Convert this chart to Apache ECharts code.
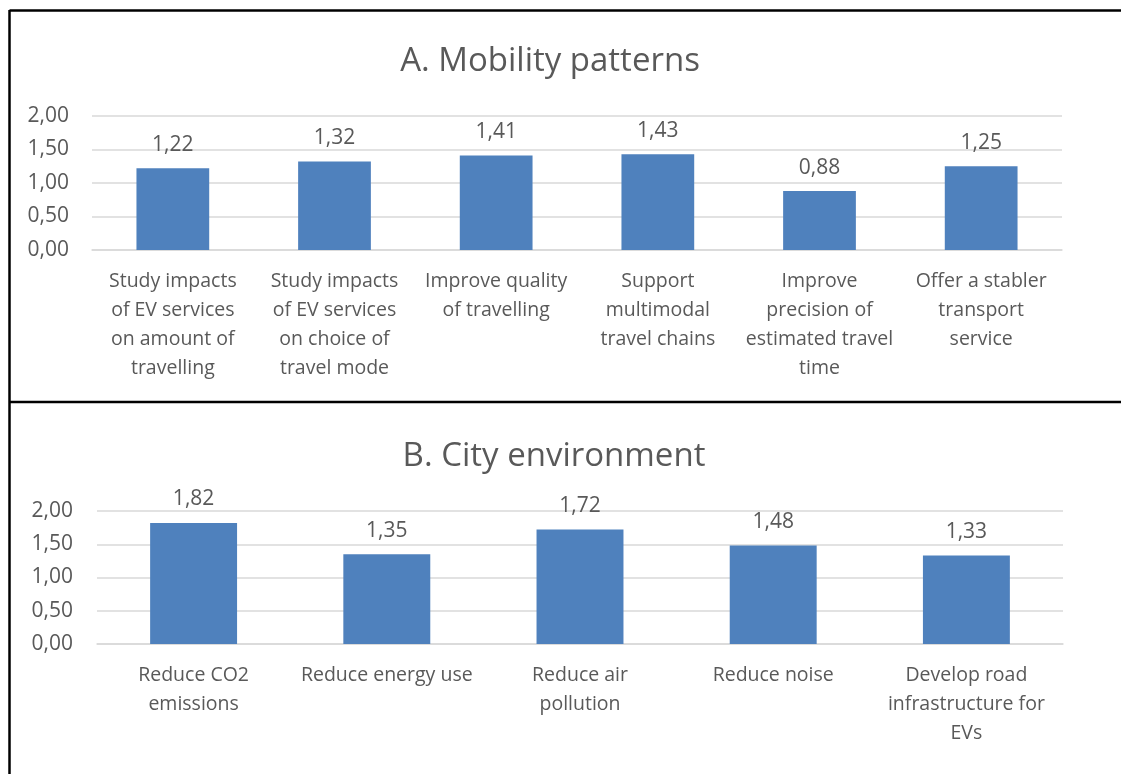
<!DOCTYPE html>
<html>
<head>
<meta charset="utf-8">
<script src="https://cdn.jsdelivr.net/npm/echarts@6/dist/echarts.min.js"></script>
<style>
  html, body { margin: 0; padding: 0; background: #fff; }
  #chart { width: 1121px; height: 774px; }
</style>
</head>
<body>
<div id="chart"></div>
<script>
// panel A
const mobilityCategories = [
  'Study impacts\nof EV services\non amount of\ntravelling',
  'Study impacts\nof EV services\non choice of\ntravel mode',
  'Improve quality\nof travelling',
  'Support\nmultimodal\ntravel chains',
  'Improve\nprecision of\nestimated travel\ntime',
  'Offer a stabler\ntransport\nservice'
];
const mobilityValues = [1.22, 1.32, 1.41, 1.43, 0.88, 1.25];

// panel B
const cityCategories = [
  'Reduce CO2\nemissions',
  'Reduce energy use',
  'Reduce air\npollution',
  'Reduce noise',
  'Develop road\ninfrastructure for\nEVs'
];
const cityValues = [1.82, 1.35, 1.72, 1.48, 1.33];

const yTicks = [0, 0.5, 1, 1.5, 2];

const FONT = '"Open Sans", sans-serif';
const TXT = '#595959';
const GRIDC = '#d9d9d9';
const BAR = '#4f81bd';

function comma(v) {
  return Number(v).toFixed(2).replace('.', ',');
}

function yAxisFor(idx, margin) {
  return {
    type: 'value',
    gridIndex: idx,
    min: yTicks[0],
    max: yTicks[yTicks.length - 1],
    interval: yTicks[1] - yTicks[0],
    axisLine: { show: false },
    axisTick: { show: false },
    splitLine: { lineStyle: { color: GRIDC, width: 1.5 } },
    axisLabel: {
      margin: margin,
      color: TXT,
      fontFamily: FONT,
      fontSize: 21,
      formatter: comma
    }
  };
}

function xAxisFor(idx, data) {
  return {
    type: 'category',
    gridIndex: idx,
    data: data,
    axisLine: { lineStyle: { color: GRIDC, width: 1.5 } },
    axisTick: { show: false },
    axisLabel: {
      interval: 0,
      margin: 17,
      color: TXT,
      fontFamily: FONT,
      fontSize: 19.5,
      lineHeight: 29,
      align: 'center'
    }
  };
}

function barSeries(idx, data, dist) {
  return {
    type: 'bar',
    xAxisIndex: idx,
    yAxisIndex: idx,
    data: data,
    barWidth: '45%',
    itemStyle: { color: BAR },
    label: {
      show: true,
      position: 'top',
      distance: dist,
      color: TXT,
      fontFamily: FONT,
      fontSize: 21,
      formatter: p => comma(p.value)
    }
  };
}

const chart = echarts.init(document.getElementById('chart'));
chart.setOption({
  animation: false,
  backgroundColor: '#fff',
  grid: [
    { left: 92, right: 59, top: 116, height: 134 },
    { left: 97, right: 58, top: 511, height: 133 }
  ],
  xAxis: [xAxisFor(0, mobilityCategories), xAxisFor(1, cityCategories)],
  yAxis: [yAxisFor(0, 23), yAxisFor(1, 24)],
  series: [barSeries(0, mobilityValues, 13), barSeries(1, cityValues, 13)],
  graphic: [
    { type: 'line', shape: { x1: 9.5, y1: 10.5, x2: 1121, y2: 10.5 }, style: { stroke: '#000', lineWidth: 2.5 } },
    { type: 'line', shape: { x1: 9.5, y1: 10, x2: 9.5, y2: 774 }, style: { stroke: '#000', lineWidth: 2.5 } },
    { type: 'line', shape: { x1: 9.5, y1: 402, x2: 1121, y2: 402 }, style: { stroke: '#000', lineWidth: 2.5 } },
    {
      type: 'text', x: 550, y: 62,
      style: { text: 'A. Mobility patterns', fill: TXT, font: '33px ' + FONT, textAlign: 'center', textVerticalAlign: 'middle' }
    },
    {
      type: 'text', x: 554, y: 457,
      style: { text: 'B. City environment', fill: TXT, font: '33px ' + FONT, textAlign: 'center', textVerticalAlign: 'middle' }
    }
  ]
});
</script>
</body>
</html>
